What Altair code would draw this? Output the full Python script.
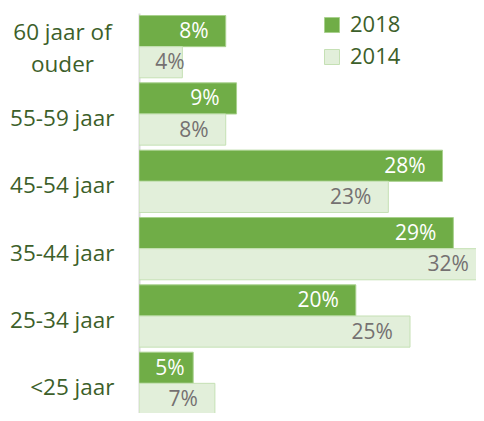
import altair as alt
import pandas as pd

categories = ["60 jaar of ouder", "55-59 jaar", "45-54 jaar", "35-44 jaar", "25-34 jaar", "<25 jaar"]
years = ["2018", "2014"]
values_2018 = [8, 9, 28, 29, 20, 5]
values_2014 = [4, 8, 23, 32, 25, 7]

rows = []
for c, v in zip(categories, values_2018):
    rows.append({"cat": c, "year": "2018", "value": v, "label": f"{v}%"})
for c, v in zip(categories, values_2014):
    rows.append({"cat": c, "year": "2014", "value": v, "label": f"{v}%"})
df = pd.DataFrame(rows)

FONT = "Open Sans"
PX_PER_PCT = 10.84
MULTI = "datum.value == '60 jaar of ouder'"
label_expr = "datum.label == '60 jaar of ouder' ? ['60 jaar of', 'ouder'] : datum.label"

y_enc = alt.Y("cat:N", sort=categories,
              scale=alt.Scale(range=[0, 404], paddingInner=0.075, paddingOuter=0.0375),
              axis=alt.Axis(title=None, ticks=False, domainColor="#d9d9d9", domainWidth=2,
                            labelFont=FONT, labelFontSize=22.5, labelColor="#3d5f2a",
                            labelLineHeight=32, labelExpr=label_expr,
                            labelPadding={"condition": {"test": MULTI, "value": 77}, "value": 25},
                            labelAlign={"condition": {"test": MULTI, "value": "center"}, "value": "right"},
                            labelOffset={"condition": {"test": MULTI, "value": -14}, "value": 5},
                            labelLimit=200))
yoff = alt.YOffset("year:N", sort=years, scale=alt.Scale(paddingInner=0, paddingOuter=0))
xscale = alt.Scale(domain=[0, 337 / PX_PER_PCT], nice=False, zero=True)

bars = alt.Chart(df).mark_bar(clip=True, strokeWidth=1).encode(
    y=y_enc,
    yOffset=yoff,
    x=alt.X("value:Q", scale=xscale, axis=None),
    fill=alt.Fill("year:N", sort=years,
                  scale=alt.Scale(domain=years, range=["#70ad47", "#e2efda"]),
                  legend=alt.Legend(title=None, orient="none", legendX=182, legendY=1,
                                    symbolType="square", symbolSize=225,
                                    symbolStrokeColor="#b9dba3", symbolStrokeWidth=1,
                                    labelFont=FONT, labelFontSize=22, labelColor="#3d5f2a",
                                    labelOffset=7, rowPadding=10, padding=0)),
    stroke=alt.Stroke("year:N", sort=years,
                      scale=alt.Scale(domain=years, range=["#a9d18e", "#c5e0b4"]),
                      legend=None),
)

text = alt.Chart(df).transform_calculate(
    lx="max(datum.value - 1.57, 4.2)"
).mark_text(clip=True, align="right", baseline="middle", dy=1,
            font=FONT, fontSize=21).encode(
    y=alt.Y("cat:N", sort=categories),
    yOffset=yoff,
    x=alt.X("lx:Q", scale=xscale, axis=None),
    text="label:N",
    color=alt.condition("datum.year == '2018'", alt.value("#ffffff"), alt.value("#757171")),
)

chart = alt.layer(bars, text).properties(
    width=337, height=400,
    autosize=alt.AutoSizeParams(type="none"),
    padding={"left": 131, "top": 5, "right": 0, "bottom": 0},
).configure_view(stroke=None)

chart.save("out.html", embed_options={"renderer": "svg", "actions": False})
